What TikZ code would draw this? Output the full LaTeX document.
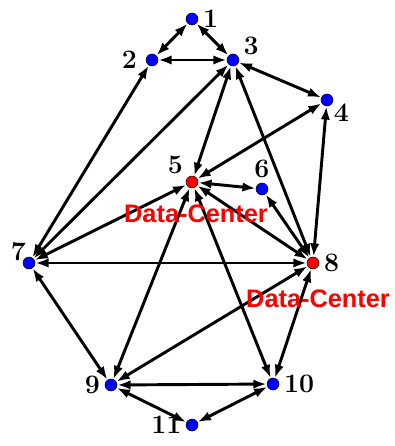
\documentclass[tikz,border=0pt]{standalone}
\usepackage{fontspec}
\newfontfamily\dcfont{Liberation Sans}
\usetikzlibrary{arrows.meta,backgrounds}
\tikzset{
    vtx/.style={circle,draw=black,line width=.4pt,fill=blue,minimum size=9pt,inner sep=0pt},
    dc/.style={vtx,fill=red},
    lbl/.style={font=\fontsize{20}{22}\selectfont\bfseries,inner sep=1.5pt},
    dclbl/.style={font=\dcfont\bfseries\fontsize{19}{21}\selectfont,text=red,inner sep=0pt},
    link/.style={{Latex[length=10pt,width=7pt]}-{Latex[length=10pt,width=7pt]},line width=2.2pt}
}
\begin{document}
\begin{tikzpicture}[x=.75pt,y=-.75pt,label distance=2pt]
        \useasboundingbox (0,0) rectangle (394,446);
        \node[vtx,label={[lbl]right:1}] (n1) at (192,19) {};
        \node[vtx,label={[lbl,label distance=5pt]left:2}] (n2) at (152,60) {};
        \node[vtx,label={[lbl]20:3}] (n3) at (233,60) {};
        \node[vtx,label={[lbl,label distance=-1pt]-20:4}] (n4) at (327,100) {};
        \node[dc,label={[lbl]140:5}] (n5) at (192,182) {};
        \node[vtx,label={[lbl]above:6}] (n6) at (262,189) {};
        \node[vtx,label={[lbl,label distance=-4pt]170:7}] (n7) at (29,263) {};
        \node[dc,label={[lbl]right:8}] (n8) at (313,263) {};
        \node[vtx,label={[lbl]left:9}] (n9) at (111,385) {};
        \node[vtx,label={[lbl]right:10}] (n10) at (273,384) {};
        \node[vtx,label={[lbl,inner sep=0pt,label distance=3pt]left:11}] (n11) at (192,425) {};
        
        \node[dclbl] (dc5) at (196,214) {Data-Center};
        \node[dclbl] (dc8) at (318,299) {Data-Center};
        
        \begin{scope}[on background layer]
            \foreach \a/\b in {1/2,1/3,2/3,2/7,3/4,3/5,3/7,3/8,4/5,4/8,5/6,5/7,5/8,5/9,5/10,6/8,7/8,7/9,8/9,8/10,9/10,9/11,10/11}
                \draw[link] (n\a) -- (n\b);
        \end{scope}
\end{tikzpicture}
\end{document}
